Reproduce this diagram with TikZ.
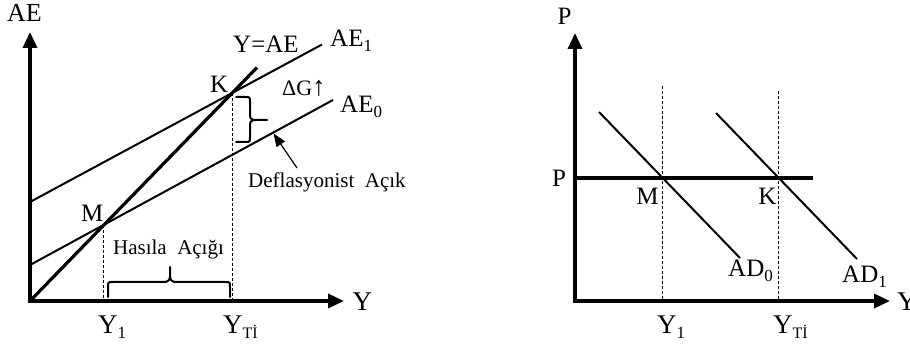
\documentclass[tikz,border=0pt]{standalone}
\usepackage{fontspec}
\setmainfont{Liberation Serif}
\usetikzlibrary{arrows.meta}
\newcommand\lsub[2][17]{\raisebox{-5pt}{\fontsize{#1}{#1}\selectfont #2}}
\begin{document}
\begin{tikzpicture}[x=1pt,y=-1pt,
  lbl/.style={inner sep=0pt, anchor=base west, font=\fontsize{25}{30}\selectfont},
  big/.style={lbl, font=\fontsize{27}{30}\selectfont},
  smalllbl/.style={lbl, font=\fontsize{21}{24}\selectfont},
  axisline/.style={line width=3.5pt, line join=miter, {Triangle[length=16pt,width=14pt]}-{Triangle[length=16pt,width=14pt]}},
  thickline/.style={line width=3.2pt},
  curve/.style={line width=2pt},
  guide/.style={line width=0.9pt, dash pattern=on 3pt off 2pt},
  bracepath/.style={line width=2pt, line join=round, line cap=round},
  pointer/.style={line width=1.2pt, -{Triangle[length=13pt,width=10pt]}}
]
\useasboundingbox (0,0) rectangle (910,347);

% ---------- left panel ----------
\coordinate (O) at (30,301);
\coordinate (AEtop) at (30,32);
\coordinate (Yend) at (344,301);
\coordinate (K) at (232,93);
\coordinate (M) at (103.5,225);
\coordinate (YAEend) at (257,67.5);
\coordinate (AE1s) at (30,202);
\coordinate (AE1e) at (322,44.5);
\coordinate (AE0s) at (30,265);
\coordinate (AE0e) at (333,100);
\coordinate (Mfoot) at (103.5,301);
\coordinate (Kfoot) at (232,301);

\draw[curve] (AE1s) -- (AE1e);
\draw[curve] (AE0s) -- (AE0e);
\draw[thickline] (O) -- (YAEend);
\draw[guide] (M) -- (Mfoot);
\draw[guide] (K) -- (Kfoot);
\draw[axisline] (AEtop) -- (O) -- (Yend);

% brace next to K
\draw[bracepath] (236,97) -- (245,97) .. controls (250,97) .. (250,102) -- (250,115)
  .. controls (250,119) and (252,120) .. (256,120) -- (267,120) -- (256,120)
  .. controls (252,120) and (250,121) .. (250,125) -- (250,137)
  .. controls (250,142) .. (245,142) -- (236,142);
% brace on the axis
\draw[bracepath] (108,297) -- (108,287) .. controls (108,282) .. (113,282) -- (164,282)
  .. controls (168,282) and (170,280) .. (170,276) -- (170,267) -- (170,276)
  .. controls (170,280) and (172,282) .. (176,282) -- (225,282)
  .. controls (230,282) .. (230,287) -- (230,297);

\coordinate (arrS) at (297,168);
\coordinate (arrE) at (273.5,133.5);
\draw[pointer] (arrS) -- (arrE);

\node[lbl, font=\fontsize{26}{30}\selectfont] (lAE) at (7,22) {AE};
\node[big] (lY) at (352.5,310) {Y};
\node[lbl] (lYAE) at (233,53) {Y=AE};
\node[lbl] (lAE1) at (330,47) {AE\lsub{1}};
\node[lbl] (lAE0) at (340,113) {AE\lsub{0}};
\node[lbl, font=\fontsize{22}{26}\selectfont] (lDG) at (282,96) {ΔG{\fontsize{27}{27}\selectfont↑}};
\node[lbl] (lK) at (210,93) {K};
\node[lbl] (lM) at (81,222) {M};
\node[smalllbl, anchor=base] (lHA) at (168.5,255) {Hasıla~~Açığı};
\node[smalllbl] (lDA) at (248,188) {Deflasyonist~~Açık};
\node[big] (lY1) at (98,334) {Y\lsub{1}};
\node[big] (lYT) at (223,334) {Y\lsub[16]{Tİ}};

% ---------- right panel ----------
\coordinate (O2) at (575,301);
\coordinate (Ptop) at (575,33);
\coordinate (Y2end) at (890,301);
\coordinate (Ps) at (575,178);
\coordinate (Pe) at (813,178);
\coordinate (AD0s) at (599,112);
\coordinate (AD0e) at (740,258);
\coordinate (AD1s) at (716,113);
\coordinate (AD1e) at (857,259);
\coordinate (D1t) at (662,86);
\coordinate (D1b) at (662,301);
\coordinate (D2t) at (778,91);
\coordinate (D2b) at (778,301);

\draw[curve] (AD0s) -- (AD0e);
\draw[curve] (AD1s) -- (AD1e);
\draw[guide] (D1t) -- (D1b);
\draw[guide] (D2t) -- (D2b);
\draw[line width=3.5pt] (Ps) -- (Pe);
\draw[axisline] (Ptop) -- (O2) -- (Y2end);

\node[lbl, anchor=base] (rPt) at (564.5,25) {P};
\node[lbl, anchor=base] (rP) at (559,187) {P};
\node[lbl, anchor=base] (rM) at (647.5,205) {M};
\node[lbl, anchor=base] (rK) at (767.5,205) {K};
\node[lbl] (rAD0) at (728,277) {AD\lsub{0}};
\node[lbl] (rAD1) at (842,283) {AD\lsub{1}};
\node[big] (rY) at (897,310) {Y};
\node[big] (rY1) at (657,334) {Y\lsub{1}};
\node[big] (rYT) at (773,334) {Y\lsub[16]{Tİ}};
\end{tikzpicture}
\end{document}
